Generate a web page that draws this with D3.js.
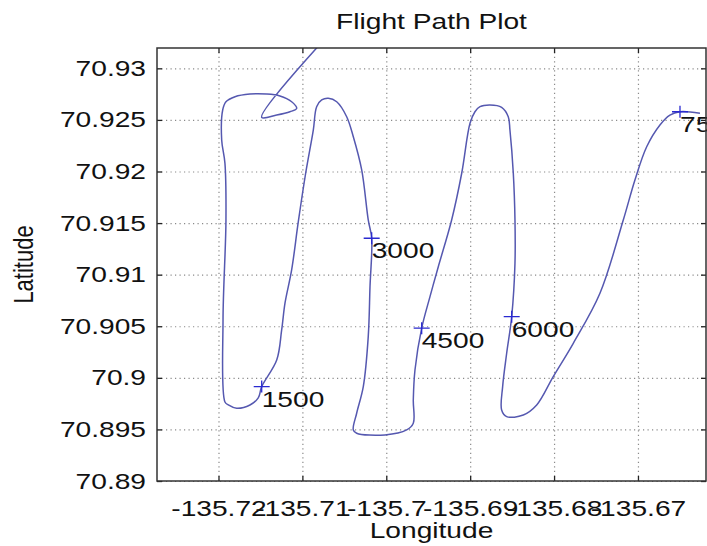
<!DOCTYPE html>
<html>
<head>
<meta charset="utf-8">
<script src="https://cdn.jsdelivr.net/npm/d3@7"></script>
<style>
  body { margin: 0; background: #fff; }
  svg { display: block; font-family: "Liberation Sans", Arial, sans-serif; }
</style>
</head>
<body>
<div id="chart"></div>
<script>
// flight track (longitude / latitude)
const pathLon = [-135.70635, -135.71485, -135.71306, -135.71148, -135.71068, -135.71128, -135.71267, -135.71426,
  -135.71625, -135.71803, -135.71911, -135.7195, -135.71962, -135.71923, -135.71911, -135.71946, -135.71923,
  -135.71883, -135.71783, -135.71625, -135.71526, -135.71485, -135.71306, -135.71247, -135.71207, -135.71128,
  -135.71049, -135.70961, -135.7087, -135.7083, -135.7077, -135.70691, -135.70591, -135.70472, -135.70393,
  -135.70293, -135.70215, -135.70174, -135.70194, -135.70215, -135.70274, -135.70353, -135.70393, -135.70353,
  -135.70016, -135.69757, -135.69678, -135.69678, -135.69658, -135.69578, -135.69479, -135.6938, -135.69221,
  -135.69101, -135.69002, -135.68943, -135.68883, -135.68764, -135.68625, -135.68546, -135.68526, -135.68486,
  -135.68466, -135.68466, -135.68505, -135.68565, -135.68613, -135.68625, -135.68565, -135.68367, -135.68207,
  -135.6801, -135.67771, -135.67453, -135.67175, -135.67036, -135.66896, -135.66738, -135.66619, -135.66499,
  -135.66261];
const pathLat = [70.93371, 70.92525, 70.92547, 70.92579, 70.92612, 70.92676, 70.92732, 70.92751,
  70.92751, 70.92725, 70.92676, 70.92596, 70.92305, 70.92079, 70.9153, 70.90561, 70.89766,
  70.89737, 70.89705, 70.89737, 70.89805, 70.89915, 70.90173, 70.90464, 70.90726, 70.91046,
  70.91511, 70.91983, 70.92402, 70.92628, 70.92693, 70.92709, 70.92676, 70.92531, 70.92337,
  70.92015, 70.9153, 70.91353, 70.90884, 70.90399, 70.89915, 70.89657, 70.89495, 70.89463,
  70.89447, 70.89495, 70.8956, 70.89786, 70.90076, 70.90481, 70.90787, 70.91077, 70.9153,
  70.91983, 70.92467, 70.92579, 70.92628, 70.92644, 70.92622, 70.92531, 70.92402, 70.91983,
  70.9153, 70.9111, 70.90593, 70.90238, 70.89915, 70.89689, 70.89624, 70.8964, 70.89737,
  70.90012, 70.90335, 70.9082, 70.9153, 70.91918, 70.9224, 70.92451, 70.92547, 70.92579,
  70.92564];

// sample markers along the track
const markLabels = ["1500", "3000", "4500", "6000", "7500"];
const markLon = [-135.71485, -135.70174, -135.69578, -135.68505, -135.66499];
const markLat = [70.89915, 70.91353, 70.90481, 70.90593, 70.92579];

const xTicks = [-135.72, -135.71, -135.70, -135.69, -135.68, -135.67];
const xTickLabels = ["-135.72", "-135.71", "-135.7", "-135.69", "-135.68", "-135.67"];
const yTicks = [70.89, 70.895, 70.90, 70.905, 70.91, 70.915, 70.92, 70.925, 70.93];
const yTickLabels = ["70.89", "70.895", "70.9", "70.905", "70.91", "70.915", "70.92", "70.925", "70.93"];

const width = 707, height = 546;
const plotL = 157, plotR = 706, plotT = 48, plotB = 481;
const fs = 22, sx = 1.28; // the picture's text is stretched sideways

const svg = d3.select('#chart').append('svg')
  .attr('width', width).attr('height', height);

const xScale = d3.scaleLinear().domain([-135.72733, -135.66189]).range([plotL, plotR]);
const yScale = d3.scaleLinear().domain([70.89, 70.93197]).range([plotB, plotT]);

svg.append('clipPath').attr('id', 'plot-clip')
  .append('rect').attr('x', plotL).attr('y', plotT)
  .attr('width', plotR - plotL).attr('height', plotB - plotT);

// dotted grid
const grid = svg.append('g').attr('class', 'grid');
grid.append('g').attr('transform', `translate(0,${plotB})`)
  .call(d3.axisBottom(xScale).tickValues(xTicks).tickFormat('').tickSize(-(plotB - plotT)).tickSizeOuter(0));
grid.append('g').attr('transform', `translate(${plotL},0)`)
  .call(d3.axisLeft(yScale).tickValues(yTicks).tickFormat('').tickSize(-(plotR - plotL)).tickSizeOuter(0));
grid.selectAll('.domain').remove();
grid.selectAll('line').attr('stroke', '#8a8a8a').attr('stroke-width', 1.2).attr('stroke-dasharray', '1.2,3.3');

// flight path
const pts = pathLon.map((lon, i) => [lon, pathLat[i]]);
const line = d3.line().x(d => xScale(d[0])).y(d => yScale(d[1])).curve(d3.curveCatmullRom);
svg.append('path')
  .datum(pts)
  .attr('clip-path', 'url(#plot-clip)')
  .attr('d', line)
  .attr('fill', 'none')
  .attr('stroke', '#5558b0')
  .attr('stroke-width', 1.5);

// markers and labels
const marks = markLabels.map((label, i) => ({ label, lon: markLon[i], lat: markLat[i] }));
const mg = svg.append('g').selectAll('g').data(marks).join('g')
  .attr('transform', d => `translate(${xScale(d.lon)},${yScale(d.lat)})`);
mg.append('path').attr('d', 'M-8,0H8M0,-6V6')
  .attr('stroke', '#2a2ad0').attr('stroke-width', 1.3);
mg.append('text')
  .attr('transform', `translate(0,20) scale(${sx},1)`)
  .attr('font-size', fs).attr('fill', '#111')
  .text(d => d.label);

// axes: inward ticks on all four sides
const axes = svg.append('g');
const xAxis = axes.append('g').attr('transform', `translate(0,${plotB})`)
  .call(d3.axisBottom(xScale).tickValues(xTicks).tickFormat((d, i) => xTickLabels[i])
    .tickSizeInner(-5).tickSizeOuter(0).tickPadding(19));
const yAxis = axes.append('g').attr('transform', `translate(${plotL},0)`)
  .call(d3.axisLeft(yScale).tickValues(yTicks).tickFormat((d, i) => yTickLabels[i])
    .tickSizeInner(-5).tickSizeOuter(0).tickPadding(11));
axes.append('g').attr('transform', `translate(0,${plotT})`)
  .call(d3.axisTop(xScale).tickValues(xTicks).tickFormat('').tickSizeInner(-5).tickSizeOuter(0));
axes.append('g').attr('transform', `translate(${plotR},0)`)
  .call(d3.axisRight(yScale).tickValues(yTicks).tickFormat('').tickSizeInner(-5).tickSizeOuter(0));
axes.selectAll('.domain').remove();
axes.selectAll('line').attr('stroke', '#222').attr('stroke-width', 1.3);
axes.selectAll('text').attr('font-size', fs).attr('fill', '#111')
  .attr('font-family', '"Liberation Sans", Arial, sans-serif');
xAxis.selectAll('text').attr('transform', `scale(${sx},1)`);
yAxis.selectAll('text').attr('transform', `scale(${sx},1)`).attr('x', -11 / sx);

// box
svg.append('rect')
  .attr('x', plotL).attr('y', plotT).attr('width', plotR - plotL).attr('height', plotB - plotT)
  .attr('fill', 'none').attr('stroke', '#333').attr('stroke-width', 1.5);

// title and axis labels
svg.append('text')
  .attr('transform', `translate(${(plotL + plotR) / 2},29) scale(${sx},1)`)
  .attr('text-anchor', 'middle').attr('font-size', fs).attr('fill', '#111')
  .text('Flight Path Plot');
svg.append('text')
  .attr('transform', `translate(${(plotL + plotR) / 2},538) scale(${sx},1)`)
  .attr('text-anchor', 'middle').attr('font-size', fs).attr('fill', '#111')
  .text('Longitude');
svg.append('text')
  .attr('transform', `translate(33,${(plotT + plotB) / 2}) scale(${sx},1) rotate(-90)`)
  .attr('text-anchor', 'middle').attr('font-size', fs).attr('fill', '#111')
  .text('Latitude');
</script>
</body>
</html>
